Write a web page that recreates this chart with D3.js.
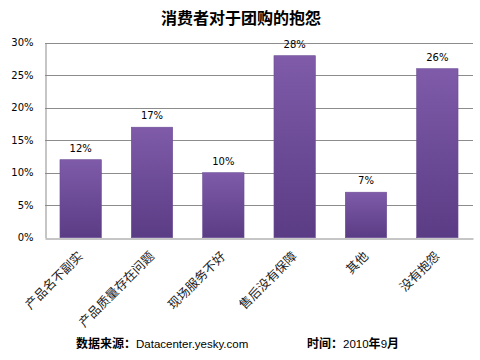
<!DOCTYPE html>
<html>
<head>
<meta charset="utf-8">
<script src="https://cdn.jsdelivr.net/npm/d3@7"></script>
<style>
html,body{margin:0;padding:0;background:#fff;}
</style>
</head>
<body>
<svg id="chart" width="480" height="360"></svg>
<script>
const categories = ["产品名不副实","产品质量存在问题","现场服务不好","售后没有保障","其他","没有抱怨"];
const values = [12, 17, 10, 28, 7, 26];
const yTicks = [0, 5, 10, 15, 20, 25, 30];
const title = "消费者对于团购的抱怨";
const sourceLabel = "数据来源：";
const sourceUrl = "Datacenter.yesky.com";
const timeParts = [["时间：", true], ["2010", false], ["年", true], ["9", false], ["月", true]];

const svg = d3.select("#chart");
const margin = {left: 45, right: 473, top: 42.7, bottom: 237.7};

const defs = svg.append("defs");
const grad = defs.append("linearGradient").attr("id","barGrad")
  .attr("x1","0").attr("y1","0").attr("x2","0").attr("y2","1");
grad.append("stop").attr("offset","0%").attr("stop-color","#7f5ba9");
grad.append("stop").attr("offset","100%").attr("stop-color","#5a3c84");

const x = d3.scaleBand().domain(categories).range([margin.left, margin.right]).paddingInner(0.42).paddingOuter(0.21);
const y = d3.scaleLinear().domain([0, 30]).range([margin.bottom, margin.top]);

// gridlines
svg.append("g").selectAll("line").data(yTicks.filter(d => d > 0)).join("line")
  .attr("x1", margin.left).attr("x2", margin.right)
  .attr("y1", d => Math.round(y(d)) + 0.5).attr("y2", d => Math.round(y(d)) + 0.5)
  .attr("stroke", "#8c8c8c").attr("stroke-width", 1);

// y axis
const yAxis = d3.axisLeft(y).tickValues(yTicks).tickFormat(d => d + "%").tickSize(0).tickPadding(12);
const gy = svg.append("g").attr("transform", `translate(${margin.left + 0.5},0)`).call(yAxis);
gy.select(".domain").attr("stroke", "#8c8c8c");
gy.selectAll("text").attr("font-family", "DejaVu Sans, Verdana, sans-serif").attr("font-size", "10px").attr("fill", "#000");

// bars
svg.append("g").selectAll("rect").data(values).join("rect")
  .attr("x", (d, i) => x(categories[i]))
  .attr("y", d => y(d))
  .attr("width", x.bandwidth())
  .attr("height", d => y(0) - y(d))
  .attr("fill", "url(#barGrad)")
  .attr("stroke", "#6a4c94").attr("stroke-width", 0.6);

// x axis
const xAxis = d3.axisBottom(x).tickSize(0).tickFormat("");
const gx = svg.append("g").attr("transform", `translate(0,${Math.round(margin.bottom) + 0.5})`).call(xAxis);
gx.select(".domain").attr("stroke", "#8c8c8c");

// value labels
svg.append("g").selectAll("text").data(values).join("text")
  .attr("x", (d, i) => x(categories[i]) + x.bandwidth() / 2)
  .attr("y", d => y(d) - 8)
  .attr("text-anchor", "middle")
  .attr("font-family", "DejaVu Sans, Verdana, sans-serif")
  .attr("font-size", "10px")
  .attr("fill", "#000")
  .text(d => d + "%");

// category labels rotated
svg.append("g").selectAll("text").data(categories).join("text")
  .attr("transform", d => `translate(${x(d) + x.bandwidth() / 2 + 3},${257}) rotate(-45)`)
  .attr("text-anchor", "end")
  .attr("font-family", "Noto Sans CJK SC, sans-serif")
  .attr("font-size", "12.5px")
  .attr("fill", "#222")
  .text(d => d);

// title
svg.append("text").attr("x", 241).attr("y", 24).attr("text-anchor", "middle")
  .attr("font-family", "Noto Sans CJK SC, sans-serif").attr("font-size", "16px").attr("font-weight", "bold")
  .attr("fill", "#000").text(title);

// footer
const foot = svg.append("text").attr("x", 76).attr("y", 348)
  .attr("font-family", "Noto Sans CJK SC, sans-serif").attr("font-size", "12px").attr("fill", "#000");
foot.append("tspan").attr("font-weight", "bold").text(sourceLabel);
foot.append("tspan").attr("font-family", "Liberation Sans, Arial, sans-serif").attr("font-size", "11.5px").text(sourceUrl);

const timeText = svg.append("text").attr("x", 307).attr("y", 348)
  .attr("font-family", "Noto Sans CJK SC, sans-serif").attr("font-size", "12px").attr("fill", "#000");
timeText.selectAll("tspan").data(timeParts).join("tspan")
  .attr("font-weight", d => d[1] ? "bold" : "normal")
  .attr("font-family", d => d[1] ? null : "Liberation Sans, Arial, sans-serif")
  .attr("font-size", d => d[1] ? null : "11.5px")
  .text(d => d[0]);
</script>
</body>
</html>
